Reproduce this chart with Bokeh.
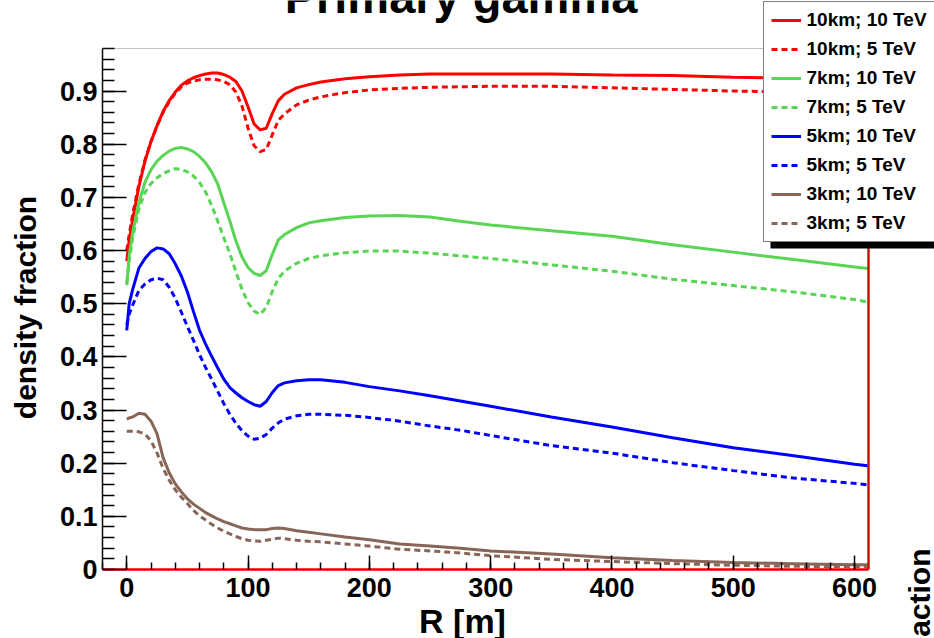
from math import pi
from bokeh.plotting import figure
from bokeh.models import (Range1d, SingleIntervalTicker, FixedTicker, Label, Legend,
                          LegendItem, BoxAnnotation, CustomJSTickFormatter, LinearAxis)
from bokeh.embed import file_html
from bokeh.resources import INLINE

# ---------------- data ----------------
R = [0, 2, 5, 10, 15, 20, 25, 30, 35, 40, 45, 50, 55, 60, 65, 70, 75, 80, 85, 90,
     95, 100, 105, 110, 115, 120, 125, 130, 140, 150, 160, 180, 200, 225, 250,
     275, 300, 350, 400, 450, 500, 550, 600, 611]

km10_10TeV = [0.580, 0.620, 0.660, 0.720, 0.768, 0.805, 0.835, 0.862, 0.882, 0.898,
              0.911, 0.919, 0.925, 0.929, 0.932, 0.934, 0.934, 0.931, 0.926, 0.918,
              0.900, 0.870, 0.838, 0.827, 0.830, 0.858, 0.882, 0.894, 0.906, 0.912,
              0.917, 0.923, 0.927, 0.930, 0.932, 0.932, 0.932, 0.932, 0.930, 0.929,
              0.926, 0.924, 0.922, 0.921]
km10_5TeV = [0.600, 0.630, 0.670, 0.725, 0.770, 0.805, 0.835, 0.860, 0.880, 0.896,
             0.908, 0.915, 0.919, 0.921, 0.922, 0.922, 0.921, 0.918, 0.912, 0.898,
             0.872, 0.830, 0.797, 0.786, 0.790, 0.818, 0.845, 0.857, 0.874, 0.883,
             0.889, 0.897, 0.902, 0.905, 0.907, 0.908, 0.909, 0.909, 0.906, 0.903,
             0.900, 0.898, 0.897, 0.896]
km7_10TeV = [0.535, 0.590, 0.635, 0.690, 0.728, 0.752, 0.768, 0.779, 0.787, 0.792,
             0.794, 0.791, 0.786, 0.777, 0.765, 0.748, 0.725, 0.690, 0.655, 0.618,
             0.588, 0.568, 0.557, 0.553, 0.562, 0.593, 0.620, 0.630, 0.643, 0.652,
             0.656, 0.662, 0.665, 0.666, 0.663, 0.655, 0.648, 0.637, 0.627, 0.611,
             0.597, 0.583, 0.569, 0.566]
km7_5TeV = [0.540, 0.580, 0.625, 0.678, 0.709, 0.726, 0.737, 0.745, 0.750, 0.754,
            0.753, 0.748, 0.740, 0.728, 0.710, 0.685, 0.655, 0.624, 0.594, 0.560,
            0.527, 0.502, 0.486, 0.480, 0.493, 0.523, 0.548, 0.561, 0.576, 0.585,
            0.590, 0.596, 0.599, 0.599, 0.595, 0.590, 0.585, 0.573, 0.561, 0.546,
            0.534, 0.522, 0.508, 0.503]
km5_10TeV = [0.450, 0.500, 0.528, 0.567, 0.585, 0.598, 0.605, 0.603, 0.594, 0.575,
             0.552, 0.522, 0.485, 0.450, 0.424, 0.401, 0.379, 0.358, 0.342, 0.332,
             0.323, 0.316, 0.310, 0.307, 0.316, 0.333, 0.346, 0.351, 0.355, 0.357,
             0.357, 0.352, 0.344, 0.336, 0.327, 0.317, 0.307, 0.287, 0.268, 0.248,
             0.229, 0.214, 0.198, 0.195]
km5_5TeV = [0.460, 0.480, 0.498, 0.525, 0.537, 0.545, 0.548, 0.545, 0.531, 0.510,
            0.484, 0.457, 0.431, 0.404, 0.380, 0.358, 0.335, 0.312, 0.292, 0.275,
            0.261, 0.251, 0.245, 0.247, 0.254, 0.266, 0.276, 0.283, 0.289, 0.292,
            0.292, 0.290, 0.286, 0.279, 0.270, 0.262, 0.252, 0.233, 0.219, 0.201,
            0.186, 0.172, 0.162, 0.159]
km3_10TeV = [0.283, 0.285, 0.287, 0.294, 0.292, 0.279, 0.255, 0.210, 0.182, 0.161,
             0.146, 0.133, 0.123, 0.115, 0.107, 0.101, 0.095, 0.090, 0.086, 0.082,
             0.078, 0.076, 0.075, 0.075, 0.075, 0.077, 0.078, 0.077, 0.073, 0.070,
             0.067, 0.061, 0.056, 0.048, 0.044, 0.040, 0.035, 0.029, 0.022, 0.017,
             0.013, 0.011, 0.009, 0.009]
km3_5TeV = [0.260, 0.260, 0.260, 0.259, 0.255, 0.242, 0.219, 0.190, 0.168, 0.150,
            0.136, 0.124, 0.111, 0.101, 0.093, 0.085, 0.078, 0.072, 0.067, 0.062,
            0.058, 0.055, 0.054, 0.053, 0.055, 0.057, 0.059, 0.058, 0.055, 0.053,
            0.052, 0.048, 0.044, 0.038, 0.035, 0.031, 0.026, 0.019, 0.015, 0.011,
            0.008, 0.006, 0.005, 0.005]

labels = ["10km; 10 TeV", "10km; 5 TeV", "7km; 10 TeV", "7km; 5 TeV",
          "5km; 10 TeV", "5km; 5 TeV", "3km; 10 TeV", "3km; 5 TeV"]
series = [km10_10TeV, km10_5TeV, km7_10TeV, km7_5TeV,
          km5_10TeV, km5_5TeV, km3_10TeV, km3_5TeV]
colors = ["#ff0000", "#ff0000", "#59d454", "#59d454",
          "#0000ff", "#0000ff", "#876657", "#876657"]
dashes = ["solid", "6 4"] * 4

X_MIN, X_MAX = -20, 611.5
Y_MIN, Y_MAX = 0, 0.98

# ---------------- layout ----------------
W, H = 934, 638
FL, FR, FT, FB = 102, 868, 48, 569   # visible plot box in pixels

SX = (X_MAX - X_MIN) / (FR - FL)
SY = (Y_MAX - Y_MIN) / (FB - FT)


def dx(px):
    return X_MIN + (px - FL) * SX


def dy(py):
    return Y_MIN + (FB - py) * SY


FONT = "Liberation Sans"

p = figure(width=W, height=H, output_backend="svg", toolbar_location=None,
           title=None, x_range=Range1d(dx(0), dx(W)), y_range=Range1d(dy(H), dy(0)),
           min_border=0, min_border_left=0, min_border_right=0,
           min_border_top=0, min_border_bottom=0)
p.background_fill_color = "white"
p.border_fill_color = "white"
p.outline_line_color = None
p.xgrid.visible = False
p.ygrid.visible = False

xa = p.xaxis[0]
ya = p.yaxis[0]
for ax in (xa, ya):
    ax.major_label_text_font = FONT
    ax.major_label_text_font_style = "bold"
    ax.major_label_text_font_size = "27px"
    ax.major_label_text_color = "black"
    ax.major_tick_line_color = "black"
    ax.minor_tick_line_color = "black"
    ax.major_tick_line_width = 1.5
    ax.minor_tick_line_width = 1.5
    ax.major_tick_out = 0
    ax.minor_tick_out = 0

xa.fixed_location = Y_MIN
xa.bounds = (X_MIN, X_MAX)
xa.ticker = SingleIntervalTicker(interval=100, num_minor_ticks=5)
xa.major_tick_in = 14
xa.minor_tick_in = 7
xa.major_label_standoff = 8
xa.axis_line_color = "#ff0000"
xa.axis_line_width = 2.5

ya.fixed_location = X_MIN
ya.bounds = (Y_MIN, Y_MAX)
ya.ticker = SingleIntervalTicker(interval=0.1, num_minor_ticks=5)
ya.major_tick_in = 24
ya.minor_tick_in = 12
ya.major_label_standoff = 5
ya.axis_line_color = "black"
ya.axis_line_width = 1.5
ya.formatter = CustomJSTickFormatter(
    code="return Math.abs(tick) < 1e-9 ? '0' : tick.toFixed(1);")

# frame box (top border) and red right edge
p.add_layout(BoxAnnotation(left=X_MIN, right=X_MAX, bottom=Y_MIN, top=Y_MAX,
                           fill_alpha=0, line_color="#333333", line_width=1))
right_edge = LinearAxis(fixed_location=X_MAX, bounds=(Y_MIN, Y_MAX),
                        ticker=FixedTicker(ticks=[]), axis_line_color="#ff0000",
                        axis_line_width=2.5, major_tick_line_color=None,
                        minor_tick_line_color=None)
p.add_layout(right_edge, "right")

renderers = []
for ys, c, d in zip(series, colors, dashes):
    r = p.line(R, ys, line_color=c, line_width=3, line_dash=d)
    renderers.append(r)

# legend shadow
p.add_layout(BoxAnnotation(left=dx(770), right=dx(960), top=dy(241.5), bottom=dy(248),
                           fill_color="black", fill_alpha=1.0, line_alpha=0))

items = [LegendItem(label=l, renderers=[r]) for l, r in zip(labels, renderers)]
legend = Legend(items=items, location=(762.5, H - 241.5),
                border_line_color="black", border_line_width=1.5,
                background_fill_color="white", background_fill_alpha=1.0,
                label_text_font=FONT, label_text_font_style="bold",
                label_text_font_size="19px", label_text_color="black",
                glyph_width=30, glyph_height=20, label_height=20,
                spacing=7, padding=7, margin=0, label_standoff=6)
p.add_layout(legend)

# titles (vertical centre of text given in pixels)
p.add_layout(Label(x=dx(460.5), y=dy(-4.5), text="Primary gamma", text_font=FONT,
                   text_font_style="bold", text_font_size="47px",
                   text_align="center", text_baseline="middle", text_color="black"))
p.add_layout(Label(x=dx(462), y=dy(620), text="R [m]", text_font=FONT,
                   text_font_style="bold", text_font_size="34px",
                   text_align="center", text_baseline="middle", text_color="black"))
p.add_layout(Label(x=dx(25), y=dy(307), text="density fraction", text_font=FONT,
                   text_font_style="bold", text_font_size="30px", angle=pi / 2,
                   text_align="center", text_baseline="middle", text_color="black"))
p.add_layout(Label(x=dx(919), y=dy(548), text="action", text_font=FONT,
                   text_font_style="bold", text_font_size="30px", angle=pi / 2,
                   text_align="right", text_baseline="middle", text_color="black"))

open("out.html", "w").write(file_html(p, INLINE))
